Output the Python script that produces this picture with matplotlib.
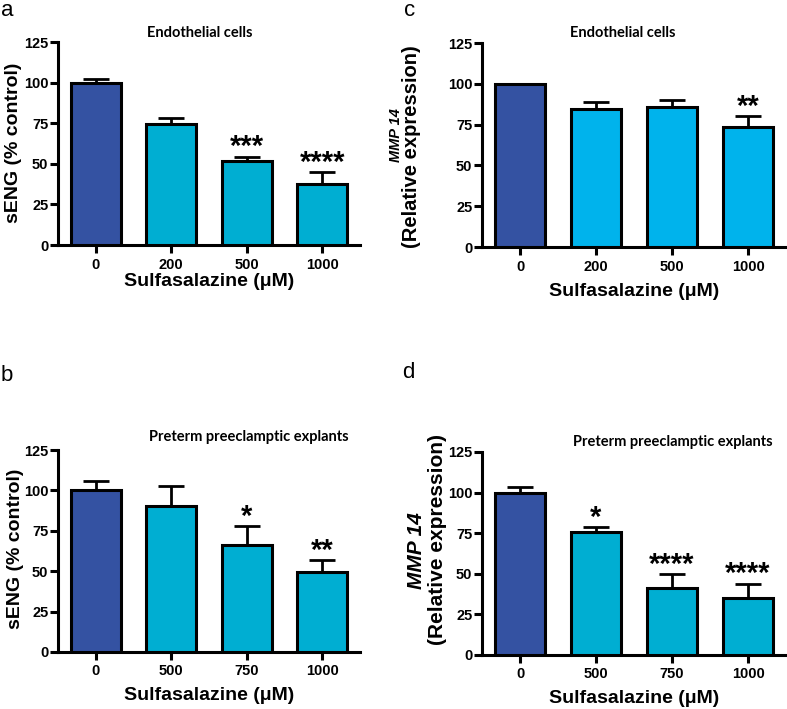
import matplotlib
matplotlib.use("Agg")
import matplotlib.pyplot as plt

plt.rcParams["font.family"] = ["Liberation Sans", "DejaVu Sans"]
plt.rcParams["font.weight"] = "bold"

# panel a: endothelial cells, sENG
doses_a = ["0", "200", "500", "1000"]
seng_endo = [100, 74.5, 52, 37.5]
seng_endo_err = [2, 3.5, 2.5, 7.5]
seng_endo_sig = ["", "", "***", "****"]

# panel b: preterm preeclamptic explants, sENG
doses_b = ["0", "500", "750", "1000"]
seng_expl = [100, 90.5, 66.5, 49.5]
seng_expl_err = [6, 12.5, 11.5, 7.5]
seng_expl_sig = ["", "", "*", "**"]

# panel c: endothelial cells, MMP14
doses_c = ["0", "200", "500", "1000"]
mmp_endo = [100, 84.5, 86, 73.5]
mmp_endo_err = [0, 4.5, 4, 6.5]
mmp_endo_sig = ["", "", "", "**"]

# panel d: explants, MMP14
doses_d = ["0", "500", "750", "1000"]
mmp_expl = [100, 75.5, 41.5, 35]
mmp_expl_err = [3.5, 3.5, 8.5, 9]
mmp_expl_sig = ["", "*", "****", "****"]

DARK = "#3452a2"
CYAN = "#00aed2"
LIGHT = "#00b3ec"


def bar_panel(ax, labels, vals, errs, sig, fill, title, title_xy):
    x = list(range(len(vals)))
    colors = [DARK] + [fill] * (len(vals) - 1)
    ax.bar(x, vals, width=0.66, color=colors, edgecolor="black", linewidth=2.2, zorder=3)
    for xi, v, e in zip(x, vals, errs):
        if e > 0:
            ax.errorbar(xi, v, yerr=[[0], [e]], fmt="none", ecolor="black",
                        elinewidth=2.0, capsize=9.5, capthick=2.0, zorder=2)
    for xi, v, e, s in zip(x, vals, errs, sig):
        if s:
            ax.annotate(s, (xi, v + e), xytext=(0, 0.8), textcoords="offset points",
                        ha="center", va="baseline", fontsize=21, fontweight="bold")
    ax.set_xlim(-0.5, 3.5)
    ax.set_ylim(0, 125)
    ax.set_yticks([0, 25, 50, 75, 100, 125])
    ax.set_xticks(x)
    ax.set_xticklabels(labels, fontweight="bold")
    for side in ["top", "right"]:
        ax.spines[side].set_visible(False)
    for side in ["left", "bottom"]:
        ax.spines[side].set_linewidth(2.2)
    ax.tick_params(axis="both", width=2.2, length=6, labelsize=10.5)
    ax.tick_params(axis="x", pad=3)
    ax.tick_params(axis="y", pad=1)
    ax.text(title_xy[0], title_xy[1], title, transform=ax.transAxes, ha="center",
            va="center", fontsize=10.5, fontweight="bold", family=["Lato", "DejaVu Sans"])


fig = plt.figure(figsize=(7.87, 7.09), dpi=100)
ax_a = fig.add_axes([0.0737, 0.6544, 0.3837, 0.2863])
ax_c = fig.add_axes([0.6125, 0.6516, 0.3863, 0.2877])
ax_b = fig.add_axes([0.0737, 0.0804, 0.3837, 0.2849])
ax_d = fig.add_axes([0.6125, 0.0762, 0.3863, 0.2863])

bar_panel(ax_a, doses_a, seng_endo, seng_endo_err, seng_endo_sig, CYAN,
          "Endothelial cells", (0.47, 1.044))
bar_panel(ax_c, doses_c, mmp_endo, mmp_endo_err, mmp_endo_sig, LIGHT,
          "Endothelial cells", (0.464, 1.049))
bar_panel(ax_b, doses_b, seng_expl, seng_expl_err, seng_expl_sig, CYAN,
          "Preterm preeclamptic explants", (0.632, 1.064))
bar_panel(ax_d, doses_d, mmp_expl, mmp_expl_err, mmp_expl_sig, CYAN,
          "Preterm preeclamptic explants", (0.628, 1.049))

# axis labels
xlab = "Sulfasalazine (\u03bcM)"
for ax, ypos in [(ax_a, -0.182), (ax_c, -0.216), (ax_b, -0.213), (ax_d, -0.212)]:
    ax.set_xlabel(xlab, fontsize=14, fontweight="bold", va="center")
    ax.xaxis.set_label_coords(0.5, ypos)

ax_a.set_ylabel("sENG (% control)", fontsize=14, fontweight="bold", va="center")
ax_a.yaxis.set_label_coords(-0.146, 0.502)
ax_b.set_ylabel("sENG (% control)", fontsize=14, fontweight="bold", va="center")
ax_b.yaxis.set_label_coords(-0.142, 0.51)

ax_c.set_ylabel("(Relative expression)", fontsize=14.5, fontweight="bold", va="center")
ax_c.yaxis.set_label_coords(-0.231, 0.49)
ax_c.text(-0.283, 0.55, "MMP 14", transform=ax_c.transAxes, rotation=90, ha="center",
          va="center", fontsize=10.5, fontweight="bold", style="italic")

ax_d.set_ylabel("(Relative expression)", fontsize=15, fontweight="bold", va="center")
ax_d.yaxis.set_label_coords(-0.148, 0.567)
ax_d.text(-0.217, 0.512, "MMP 14", transform=ax_d.transAxes, rotation=90, ha="center",
          va="center", fontsize=15, fontweight="bold", style="italic")

# panel letters
for letter, (px, py) in {"a": (1, 16), "c": (404, 16), "b": (1, 381), "d": (402, 378)}.items():
    fig.text(px / 787, 1 - py / 709, letter, fontsize=16, fontweight="normal",
             ha="left", va="baseline")

fig.savefig("out.png", dpi=100)
